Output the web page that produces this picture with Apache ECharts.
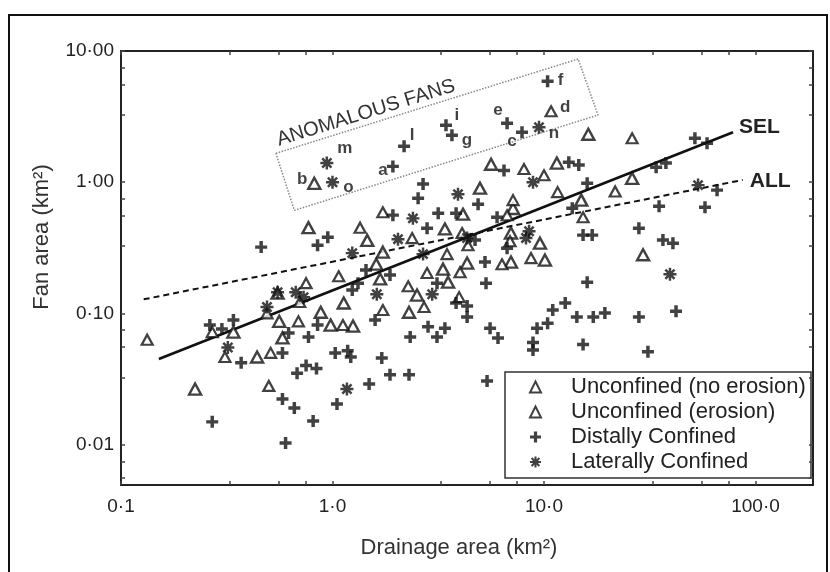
<!DOCTYPE html>
<html><head><meta charset="utf-8">
<script src="https://cdn.jsdelivr.net/npm/echarts@6/dist/echarts.min.js"></script>
<style>html,body{margin:0;padding:0;background:#fff}#c{width:830px;height:572px}</style>
</head><body><div id="c"></div>
<script>
// ---- data (drainage area km2, fan area km2) ----
const unconfinedNoErosion = [
[0.82,0.98],[16.2,2.32],[5.62,1.37],[11.5,1.40],[4.98,0.90],[7.14,0.63],[15.0,0.73],[26.1,1.07],
[29.4,0.28],[4.14,0.57],[3.40,0.44],[0.77,0.45],[1.46,0.36],[1.73,0.293],[6.98,0.41],[9.57,0.343],
[1.61,0.237],[1.68,0.183],[0.55,0.143],[1.13,0.120],[0.88,0.102],[0.56,0.087],[0.98,0.0815],[1.25,0.080],
[0.34,0.072],[0.58,0.065],[0.44,0.0465],[0.224,0.0265],[4.33,0.242],[6.98,0.246],[10.1,0.255],[3.33,0.2175],
[3.52,0.173],[2.51,0.138],[2.30,0.102]
];
const unconfinedErosion = [
[10.8,3.47],[26.1,2.16],[8.04,1.26],[10.0,1.13],[7.14,0.73],[11.6,0.84],[21.7,0.85],[15.3,0.54],
[1.73,0.59],[6.69,0.56],[4.10,0.41],[1.35,0.45],[2.38,0.375],[3.48,0.283],[6.91,0.355],[4.37,0.331],
[1.07,0.192],[0.75,0.170],[0.70,0.122],[0.49,0.100],[1.73,0.106],[0.69,0.087],[1.12,0.0815],[0.27,0.072],
[0.133,0.063],[0.31,0.0465],[0.51,0.050],[0.50,0.028],[6.33,0.237],[8.68,0.264],[4.01,0.206],[2.80,0.203],
[2.28,0.161],[2.71,0.112],[3.97,0.133]
];
const distallyConfined = [
[1.93,1.32],[2.18,1.88],[3.44,2.72],[3.67,2.28],[6.69,2.81],[7.87,2.40],[10.4,5.88],
[51.7,2.16],[59.0,1.98],[13.1,1.42],[14.6,1.35],[6.47,1.23],[16.0,0.98],[33.9,1.30],[37.7,1.40],[65.8,0.87],
[2.68,0.97],[2.54,0.755],[4.88,0.68],[13.6,0.634],[35.0,0.656],[57.7,0.645],[1.93,0.561],[3.16,0.58],
[3.84,0.58],[6.00,0.541],[2.80,0.446],[28.1,0.446],[15.3,0.395],[16.9,0.395],[4.72,0.362],[36.5,0.362],
[40.7,0.343],[0.95,0.381],[0.85,0.331],[0.46,0.320],[1.44,0.214],[1.87,0.196],[3.12,0.170],[5.32,0.170],
[16.0,0.173],[6.69,0.314],[1.24,0.1505],[1.32,0.170],[3.84,0.120],[4.33,0.114],[4.33,0.094],[11.0,0.106],
[12.6,0.120],[14.3,0.094],[17.1,0.094],[19.4,0.1005],[28.1,0.094],[42.1,0.104],[1.59,0.089],[0.85,0.0815],
[0.34,0.089],[0.263,0.0815],[0.30,0.076],[0.62,0.071],[0.77,0.066],[2.33,0.066],[2.83,0.079],[3.40,0.077],
[3.12,0.066],[5.56,0.077],[6.06,0.065],[10.4,0.084],[9.27,0.077],[8.87,0.060],[8.87,0.0525],[15.3,0.058],
[31.0,0.051],[0.58,0.050],[0.37,0.042],[1.03,0.050],[1.18,0.052],[1.22,0.0465],[1.71,0.0457],[0.68,0.035],
[0.75,0.040],[0.84,0.038],[1.87,0.034],[2.30,0.034],[1.49,0.029],[5.38,0.0305],[0.58,0.0223],[0.66,0.019],
[1.05,0.0204],[0.27,0.0149],[0.81,0.0151],[0.60,0.0103],[5.26,0.246]
];
const laterallyConfined = [
[0.94,1.40],[1.00,1.00],[9.47,2.62],
[8.87,1.00],[3.92,0.81],[2.40,0.53],[2.04,0.368],[1.24,0.288],[2.68,0.283],[4.33,0.375],[8.50,0.423],
[8.22,0.375],[53.5,0.95],[39.4,0.199],[1.62,0.140],[2.96,0.140],[0.55,0.145],[0.67,0.145],[0.73,0.133],
[0.49,0.112],[0.32,0.055],[1.17,0.0265]
];
// letters of the anomalous fans (first points of each series)
const lettersNoErosion = ['b'];
const lettersErosion = ['d'];
const lettersDistal = ['a','l','i','g','e','c','f'];
const lettersLateral = ['m','o','n'];
// regression lines
const selLine = [[0.151,0.0449],[78.3,2.40]];
const allLine = [[0.128,0.128],[87.0,1.04]];
// anomalous fans box corners
const anomalyBox = [[0.54,1.66],[14.5,8.69],[18.0,3.25],[0.66,0.61],[0.54,1.66]];
// axes
const xTickValues = [0.1,1,10,100];
const xTickLabels = ['0·1','1·0','10·0','100·0'];
const yTickValues = [0.01,0.1,1,10];
const yTickLabels = ['0·01','0·10','1·00','10·00'];
const xRange = [0.1,187];
const yRange = [0.00492,10];

// ---- chart ----
const FONT = '"Liberation Sans", Arial, sans-serif';
const L = v => Math.log10(v);
const minorFactors = [3.26,5.56,7.45];
function ticks(vals, range){
  const out=[];
  vals.forEach(v=>{out.push(L(v)); minorFactors.forEach(f=>out.push(L(v*f/10)));});
  out.push(L(vals[vals.length-1]*10)); minorFactors.forEach(f=>out.push(L(vals[0]*f/10)));
  return out.filter(t=>t>=L(range[0])-1e-9 && t<=L(range[1])+1e-9);
}
function labelFmt(vals, labels){
  return v => { const i = vals.findIndex(t=>Math.abs(L(t)-v)<1e-6); return i>=0?labels[i]:''; };
}
const labelOffsets = {b:[-12,-4],m:[18,-15],o:[16,5],a:[-10,4],l:[8,-11],i:[11,-10],g:[15,5],
  e:[-9,-13],c:[-10,9],n:[15,6],f:[13,-1],d:[14,-4]};
function pts(arr, letters){
  return arr.map((p,k)=>{
    const v=[L(p[0]),L(p[1])];
    if(k<letters.length){
      const ch=letters[k];
      return {value:v,label:{show:true,formatter:ch,position:'inside',offset:labelOffsets[ch],
        color:'#111',fontSize:17,fontWeight:'bold',fontFamily:FONT}};
    }
    return v;
  });
}
const linePts = arr => arr.map(p=>[L(p[0]),L(p[1])]);

const axisLineStyle = {show:true,onZero:false,lineStyle:{color:'#222',width:2}};
function xAx(pos, showLabel){
  return {type:'value',position:pos,min:L(xRange[0]),max:L(xRange[1]),
    axisLine:axisLineStyle,splitLine:{show:false},
    axisTick:{show:true,inside:true,length:4,lineStyle:{color:'#444',width:1.5},customValues:ticks(xTickValues,xRange)},
    axisLabel:{show:showLabel,customValues:xTickValues.map(L),formatter:labelFmt(xTickValues,xTickLabels),
      fontSize:19,color:'#222',fontFamily:FONT,margin:12}};
}
function yAx(pos, showLabel){
  return {type:'value',position:pos,min:L(yRange[0]),max:L(yRange[1]),
    axisLine:axisLineStyle,splitLine:{show:false},
    axisTick:{show:true,inside:true,length:4,lineStyle:{color:'#444',width:1.5},customValues:ticks(yTickValues,yRange)},
    axisLabel:{show:showLabel,customValues:yTickValues.map(L),formatter:labelFmt(yTickValues,yTickLabels),
      fontSize:19,color:'#222',fontFamily:FONT,margin:7}};
}
const plusPath='path://M-1.45,-5L1.45,-5L1.45,-1.45L5,-1.45L5,1.45L1.45,1.45L1.45,5L-1.45,5L-1.45,1.45L-5,1.45L-5,-1.45L-1.45,-1.45Z';
const starPath='path://M-5,-0.95L5,-0.95L5,0.95L-5,0.95ZM-0.95,-5L0.95,-5L0.95,5L-0.95,5ZM-2.86,-4.21L4.21,2.86L2.86,4.21L-4.21,-2.86ZM-4.21,2.86L2.86,-4.21L4.21,-2.86L-2.86,4.21Z';

const names=['Unconfined (no erosion)','Unconfined (erosion)','Distally Confined','Laterally Confined'];
const chart = echarts.init(document.getElementById('c'),null,{renderer:'canvas'});
chart.setOption({
  animation:false,
  backgroundColor:'#fff',
  grid:{left:121,right:17,top:51,bottom:87},
  xAxis:[xAx('bottom',true),xAx('top',false)],
  yAxis:[yAx('left',true),yAx('right',false)],
  legend:{orient:'vertical',left:529,top:376,padding:0,itemWidth:11,itemHeight:11,itemGap:3,z:10,
    selectedMode:false,data:names,
    textStyle:{fontSize:22,color:'#222',fontFamily:FONT,lineHeight:21,padding:[0,0,0,25]}},
  series:[
    {name:names[0],type:'scatter',symbol:'triangle',symbolSize:[12,11],z:3,
      itemStyle:{color:'#fff',borderColor:'#111',borderWidth:2.4},data:pts(unconfinedNoErosion,lettersNoErosion)},
    {name:names[1],type:'scatter',symbol:'triangle',symbolSize:[11,10],z:3,
      itemStyle:{color:'#fff',borderColor:'#111',borderWidth:2.2},data:pts(unconfinedErosion,lettersErosion)},
    {name:names[2],type:'scatter',symbol:plusPath,symbolSize:12,z:3,
      itemStyle:{color:'#111'},data:pts(distallyConfined,lettersDistal)},
    {name:names[3],type:'scatter',symbol:starPath,symbolSize:13,z:3,
      itemStyle:{color:'#111'},data:pts(laterallyConfined,lettersLateral)},
    {name:'SEL',type:'line',data:linePts(selLine),showSymbol:false,symbol:'none',z:2,silent:true,
      lineStyle:{color:'#111',width:2.6},
      endLabel:{show:true,formatter:'SEL',fontSize:21,fontWeight:'bold',color:'#222',fontFamily:FONT,distance:6,offset:[0,-5]}},
    {name:'ALL',type:'line',data:linePts(allLine),showSymbol:false,symbol:'none',z:2,silent:true,
      lineStyle:{color:'#111',width:2,type:[6,4]},
      endLabel:{show:true,formatter:'ALL',fontSize:21,fontWeight:'bold',color:'#222',fontFamily:FONT,distance:7,offset:[0,1]}},
    {name:'box',type:'line',data:linePts(anomalyBox),showSymbol:false,symbol:'none',z:1,silent:true,
      lineStyle:{color:'#888',width:1.5,type:'dotted'}}
  ],
  graphic:[
    {type:'rect',shape:{x:9,y:15,width:818,height:570},style:{fill:'none',stroke:'#111',lineWidth:2},silent:true},
    {type:'rect',shape:{x:505,y:372,width:306,height:106},style:{fill:'none',stroke:'#333',lineWidth:1.5},silent:true},
    {type:'text',x:366,y:113,rotation:0.30,silent:true,
      style:{text:'ANOMALOUS FANS',fontSize:20,fill:'#333',fontFamily:FONT,align:'center',verticalAlign:'middle'}},
    {type:'text',x:42,y:237,rotation:Math.PI/2,silent:true,
      style:{text:'Fan area (km²)',fontSize:22,fill:'#333',fontFamily:FONT,align:'center',verticalAlign:'middle'}},
    {type:'text',x:459,y:548,silent:true,
      style:{text:'Drainage area (km²)',fontSize:22,fill:'#333',fontFamily:FONT,align:'center',verticalAlign:'middle'}}
  ]
});
</script></body></html>
